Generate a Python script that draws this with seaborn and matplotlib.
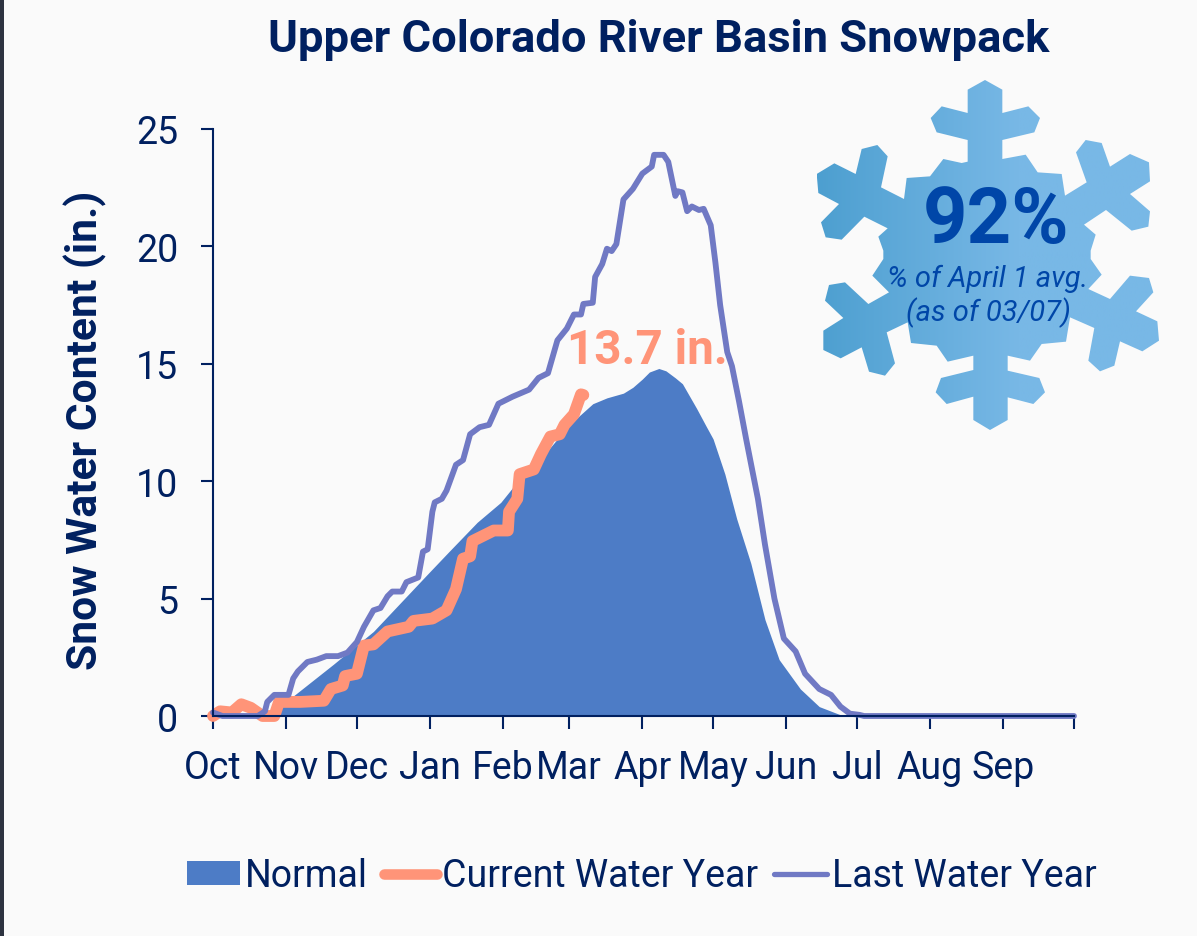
"""
Upper Colorado River Basin snowpack, normal vs current and last water year
"""

import numpy as np
import pandas as pd
import matplotlib
matplotlib.use("Agg")
import matplotlib.pyplot as plt
from matplotlib.colors import LinearSegmentedColormap
from matplotlib.lines import Line2D
from matplotlib.patches import Patch, Polygon, Rectangle
import seaborn as sns

NAVY = "#002060"
BLUE = "#4d7cc6"
ORANGE = "#ff9478"
PURPLE = "#7079c4"
BG = "#fafafa"

months = ["Oct", "Nov", "Dec", "Jan", "Feb", "Mar", "Apr", "May", "Jun", "Jul", "Aug", "Sep", ""]
month_days = [0, 31, 61, 92, 123, 151, 182, 212, 243, 273, 304, 335, 365]

# values (days since Oct 1, inches)
normal_days = [21, 26, 34, 51, 68, 91, 100, 112, 122, 130, 141, 151, 161, 167, 174, 178, 182, 185,
               189, 192, 196, 199, 205, 209, 212, 217, 222, 228, 234, 240, 249, 257, 266, 270, 365]
normal_vals = [0, 0.15, 0.85, 2.2, 3.6, 6.05, 7.0, 8.25, 9.1, 10.1, 11.2, 12.4, 13.3, 13.55, 13.75,
               14.0, 14.35, 14.65, 14.8, 14.7, 14.4, 14.15, 13.1, 12.35, 11.8, 10.3, 8.4, 6.5, 4.1,
               2.4, 1.15, 0.4, 0.05, 0, 0]

last_days = [0, 4, 19, 22, 23, 26, 32, 34, 36, 40, 44, 48, 53, 57, 61, 64, 68, 71, 74, 76, 80, 82,
             87, 89, 91, 93, 94, 97, 99, 103, 106, 109, 113, 117, 121, 127, 134, 138, 142, 146,
             150, 153, 156, 157, 161, 162, 165, 167, 169, 171, 174, 178, 182, 186, 187, 191, 193,
             196, 197, 199, 201, 203, 206, 208, 211, 213, 215, 218, 220, 223, 226, 231, 234, 238,
             242, 247, 251, 257, 262, 266, 270, 274, 276, 365]
last_vals = [0.15, 0, 0, 0.2, 0.6, 0.9, 0.9, 1.6, 1.9, 2.3, 2.4, 2.55, 2.55, 2.7, 3.15, 3.8, 4.5,
             4.6, 5.1, 5.3, 5.3, 5.7, 5.9, 7.0, 7.1, 8.7, 9.1, 9.25, 9.6, 10.7, 10.9, 12.0, 12.3,
             12.4, 13.3, 13.6, 13.9, 14.4, 14.6, 16.0, 16.5, 17.1, 17.1, 17.55, 17.6, 18.7, 19.25,
             19.9, 19.8, 20.1, 22.0, 22.45, 23.1, 23.4, 23.9, 23.9, 23.6, 22.15, 22.35, 22.3, 21.5,
             21.7, 21.55, 21.6, 20.9, 19.3, 17.5, 15.5, 14.9, 13.4, 11.8, 9.25, 7.3, 5.0, 3.3, 2.75,
             1.8, 1.15, 0.9, 0.4, 0.1, 0.05, 0, 0]

current_days = [0, 3, 8, 12, 16, 21, 26, 28, 37, 47, 50, 55, 56, 61, 64, 68, 74, 83, 85, 93, 99,
                103, 106, 109, 110, 119, 125, 125.5, 129, 130, 136, 139, 143, 147, 149, 153, 156, 157]
current_vals = [0, 0.2, 0.15, 0.5, 0.35, 0, 0, 0.6, 0.6, 0.65, 1.15, 1.3, 1.7, 1.8, 3.0, 3.05, 3.6,
                3.8, 4.05, 4.15, 4.5, 5.4, 6.7, 6.8, 7.45, 7.9, 7.9, 8.7, 9.25, 10.3, 10.5, 11.15,
                11.9, 12.0, 12.4, 12.85, 13.7, 13.67]

# snowflake outline, figure pixels
flake_x = [615, 667, 667, 745, 780, 763, 667, 667, 737, 773, 845, 855, 920, 888, 917, 965, 990, 1050,
           1107, 1110, 1050, 1110, 1105, 1055, 978, 912, 947, 932, 932, 965, 925, 990, 1050, 1107,
           1120, 1068, 1132, 1137, 1087, 1020, 1003, 960, 925, 943, 870, 858, 785, 750, 683, 683, 778,
           795, 760, 683, 683, 630, 580, 580, 500, 467, 483, 580, 580, 503, 470, 393, 383, 320, 345,
           315, 267, 245, 182, 130, 130, 190, 135, 147, 195, 265, 327, 277, 310, 310, 295, 323, 253,
           185, 137, 123, 177, 115, 110, 163, 227, 245, 292, 323, 303, 372, 380, 450, 490, 545, 563,
           563, 470, 452, 485, 563, 563]
flake_y = [33, 62, 132, 112, 147, 190, 213, 270, 257, 310, 315, 380, 340, 250, 213, 222, 293, 255,
           280, 337, 375, 427, 473, 485, 423, 467, 497, 545, 570, 617, 660, 690, 620, 627, 670, 727,
           757, 815, 847, 817, 890, 907, 875, 777, 745, 818, 825, 875, 860, 905, 927, 970, 1005, 985,
           1053, 1083, 1053, 983, 1005, 970, 927, 903, 860, 878, 830, 822, 760, 790, 883, 920, 908,
           835, 868, 843, 785, 747, 695, 648, 640, 705, 670, 620, 570, 545, 503, 478, 443, 512, 505,
           460, 405, 372, 315, 283, 315, 240, 228, 262, 355, 390, 327, 322, 270, 282, 278,
           213, 190, 147, 112, 132, 62]

sns.set_theme(style="ticks")
plt.rcParams["font.family"] = ["Roboto", "DejaVu Sans"]

W, H = 1197, 937
fig = plt.figure(figsize=(W / 100, H / 100), dpi=100, facecolor=BG)
ax = fig.add_axes([213 / W, 1 - 717 / H, (1074 - 213) / W, (717 - 130) / H], facecolor="none")

normal = pd.DataFrame({"day": normal_days, "swe": normal_vals})
current = pd.DataFrame({"day": current_days, "swe": current_vals})
last = pd.DataFrame({"day": last_days, "swe": last_vals})

ax.fill_between(normal["day"], normal["swe"], color=BLUE, lw=0, zorder=1)
sns.lineplot(data=current, x="day", y="swe", ax=ax, color=ORANGE, zorder=3,
             solid_capstyle="round", solid_joinstyle="round", estimator=None, sort=False, clip_on=False)
sns.lineplot(data=last, x="day", y="swe", ax=ax, color=PURPLE, zorder=4,
             solid_capstyle="round", solid_joinstyle="round", estimator=None, sort=False, clip_on=False)
ax.lines[0].set_linewidth(8.5)
ax.lines[1].set_linewidth(4.2)

ax.set_xlim(0, 365)
ax.set_ylim(0, 25)
ax.set_xticks(month_days)
ax.set_xticklabels(months)
ax.set_yticks([0, 5, 10, 15, 20, 25])
ax.tick_params(axis="both", colors=NAVY, labelsize=27, length=9, width=1.5, direction="out")
ax.tick_params(axis="x", pad=15)
ax.tick_params(axis="y", pad=16)
ax.set_xlabel("")
ax.set_ylabel("Snow Water Content (in.)", fontsize=30.7, fontweight="bold", color=NAVY)
ax.yaxis.set_label_coords(-0.123, (717 - 430) / 587)
sns.despine(ax=ax)
for side in ["left", "bottom"]:
    ax.spines[side].set_color(NAVY)
    ax.spines[side].set_linewidth(1.5)
    ax.spines[side].set_zorder(5)

# overlay in figure pixels for the snowflake and the free text
over = fig.add_axes([0, 0, 1, 1], facecolor="none")

over.add_patch(Rectangle((0, 0), 4, H, color="#2d3340", lw=0))

fx = np.array(flake_x) / 3 + 780
fy = np.array(flake_y) / 3 + 70
grad = np.clip(np.linspace(0, 1.7, 256), 0, 1).reshape(1, -1)
cmap = LinearSegmentedColormap.from_list("flake", ["#4d9fd0", "#78b8e6"])
im = over.imshow(grad, cmap=cmap, extent=[fx.min(), fx.max(), fy.max(), fy.min()], aspect="auto")
over.set_xlim(0, W)
over.set_ylim(H, 0)
over.axis("off")
im.set_clip_path(Polygon(np.column_stack([fx, fy]), closed=True, transform=over.transData))

over.text(659, 40, "Upper Colorado River Basin Snowpack", fontsize=32.7, fontweight="bold", color=NAVY,
          ha="center", va="center")
over.text(647, 351, "13.7 in.", fontsize=34.3, fontweight="bold", color=ORANGE, ha="center", va="center")
over.text(996, 222, "92%", fontsize=56, fontweight="bold", color="#0046a8", ha="center", va="center")
over.text(988, 279, "% of April 1 avg.", fontsize=21, fontstyle="italic", color="#0046a8",
          ha="center", va="center")
over.text(988, 313, "(as of 03/07)", fontsize=21, fontstyle="italic", color="#0046a8",
          ha="center", va="center")

handles = [Patch(facecolor=BLUE, lw=0),
           Line2D([], [], color=ORANGE, linewidth=7.6, solid_capstyle="round"),
           Line2D([], [], color=PURPLE, linewidth=3.8, solid_capstyle="round")]
fig.legend(handles, ["Normal", "Current Water Year", "Last Water Year"], loc="center",
           bbox_to_anchor=(642 / W, 1 - 877 / H), ncol=3, frameon=False, fontsize=27,
           labelcolor=NAVY, handlelength=1.4, handleheight=0.6, handletextpad=0.15,
           columnspacing=0.42, borderaxespad=0)

fig.savefig("out.png", dpi=100, facecolor=BG)
